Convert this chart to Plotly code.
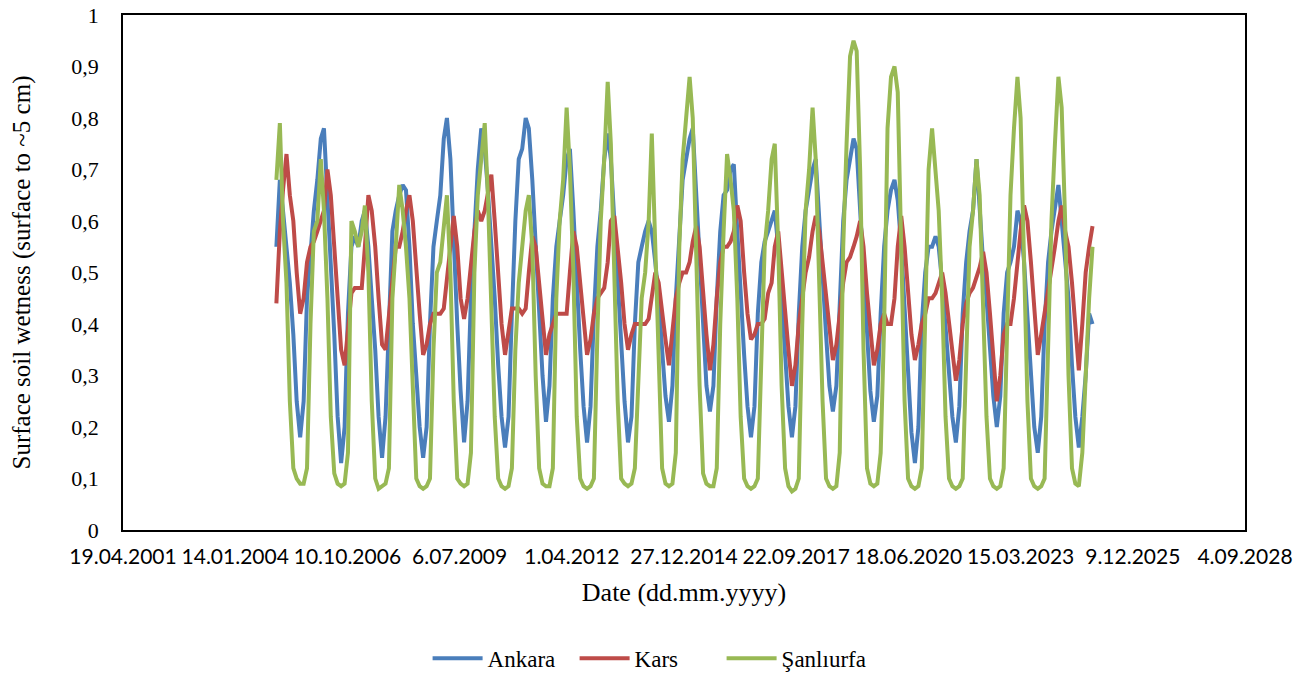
import pandas as pd
import plotly.graph_objects as go

# Monthly (mid-month) readings, Jan 2005 .. Dec 2024
dates = pd.date_range("2005-01-01", "2024-12-01", freq="MS") + pd.Timedelta(days=14)

ankara = [
    0.55, 0.68, 0.62, 0.55, 0.48, 0.38, 0.25, 0.18, 0.25, 0.45, 0.55, 0.62,  # 2005
    0.68, 0.76, 0.78, 0.65, 0.50, 0.38, 0.22, 0.13, 0.20, 0.42, 0.55, 0.57,  # 2006
    0.55, 0.60, 0.62, 0.55, 0.45, 0.35, 0.22, 0.14, 0.22, 0.42, 0.58, 0.62,  # 2007
    0.65, 0.67, 0.66, 0.55, 0.40, 0.30, 0.20, 0.14, 0.20, 0.40, 0.55, 0.60,  # 2008
    0.65, 0.76, 0.80, 0.72, 0.55, 0.40, 0.27, 0.17, 0.25, 0.45, 0.58, 0.70,  # 2009
    0.78, 0.74, 0.66, 0.56, 0.45, 0.32, 0.22, 0.16, 0.22, 0.42, 0.60, 0.72,  # 2010
    0.74, 0.80, 0.78, 0.68, 0.55, 0.42, 0.30, 0.21, 0.28, 0.45, 0.55, 0.60,  # 2011
    0.65, 0.72, 0.74, 0.62, 0.48, 0.35, 0.24, 0.17, 0.24, 0.42, 0.55, 0.62,  # 2012
    0.72, 0.77, 0.72, 0.60, 0.48, 0.35, 0.25, 0.17, 0.22, 0.40, 0.52, 0.55,  # 2013
    0.58, 0.60, 0.58, 0.52, 0.45, 0.35, 0.26, 0.21, 0.28, 0.45, 0.58, 0.68,  # 2014
    0.72, 0.76, 0.78, 0.65, 0.50, 0.38, 0.28, 0.23, 0.28, 0.45, 0.58, 0.65,  # 2015
    0.66, 0.70, 0.71, 0.58, 0.45, 0.34, 0.24, 0.18, 0.24, 0.42, 0.52, 0.56,  # 2016
    0.58, 0.60, 0.62, 0.55, 0.45, 0.35, 0.24, 0.18, 0.24, 0.42, 0.55, 0.62,  # 2017
    0.66, 0.70, 0.72, 0.60, 0.48, 0.38, 0.28, 0.23, 0.28, 0.45, 0.60, 0.68,  # 2018
    0.72, 0.76, 0.74, 0.62, 0.50, 0.38, 0.27, 0.21, 0.26, 0.42, 0.55, 0.62,  # 2019
    0.66, 0.68, 0.64, 0.55, 0.42, 0.30, 0.19, 0.13, 0.20, 0.40, 0.50, 0.55,  # 2020
    0.55, 0.57, 0.55, 0.48, 0.40, 0.32, 0.22, 0.17, 0.24, 0.42, 0.52, 0.58,  # 2021
    0.62, 0.72, 0.62, 0.52, 0.45, 0.35, 0.26, 0.20, 0.26, 0.42, 0.50, 0.52,  # 2022
    0.55, 0.62, 0.60, 0.52, 0.42, 0.30, 0.20, 0.15, 0.22, 0.40, 0.52, 0.58,  # 2023
    0.62, 0.67, 0.60, 0.52, 0.45, 0.32, 0.22, 0.16, 0.22, 0.30, 0.42, 0.40,  # 2024
]

kars = [
    0.44, 0.58, 0.66, 0.73, 0.65, 0.60, 0.50, 0.42, 0.45, 0.52, 0.55, 0.56,  # 2005
    0.58, 0.60, 0.62, 0.70, 0.65, 0.55, 0.45, 0.35, 0.32, 0.40, 0.46, 0.47,  # 2006
    0.47, 0.47, 0.55, 0.65, 0.62, 0.55, 0.45, 0.36, 0.35, 0.42, 0.50, 0.55,  # 2007
    0.55, 0.58, 0.62, 0.65, 0.60, 0.50, 0.42, 0.34, 0.36, 0.40, 0.42, 0.42,  # 2008
    0.42, 0.43, 0.48, 0.55, 0.61, 0.55, 0.45, 0.41, 0.45, 0.52, 0.58, 0.62,  # 2009
    0.60, 0.62, 0.65, 0.69, 0.60, 0.50, 0.40, 0.34, 0.38, 0.43, 0.43, 0.43,  # 2010
    0.42, 0.43, 0.50, 0.57, 0.55, 0.48, 0.40, 0.34, 0.38, 0.40, 0.42, 0.42,  # 2011
    0.42, 0.42, 0.50, 0.58, 0.55, 0.48, 0.40, 0.34, 0.37, 0.42, 0.45, 0.46,  # 2012
    0.47, 0.52, 0.60, 0.61, 0.55, 0.48, 0.40, 0.35, 0.38, 0.40, 0.40, 0.40,  # 2013
    0.40, 0.41, 0.45, 0.50, 0.48, 0.42, 0.37, 0.32, 0.38, 0.45, 0.48, 0.50,  # 2014
    0.50, 0.52, 0.56, 0.59, 0.55, 0.46, 0.38, 0.31, 0.36, 0.45, 0.52, 0.55,  # 2015
    0.55, 0.56, 0.58, 0.63, 0.60, 0.50, 0.42, 0.37, 0.38, 0.40, 0.40, 0.41,  # 2016
    0.46, 0.48, 0.55, 0.58, 0.50, 0.42, 0.35, 0.28, 0.32, 0.40, 0.45, 0.50,  # 2017
    0.53, 0.58, 0.61, 0.58, 0.52, 0.45, 0.38, 0.33, 0.36, 0.42, 0.48, 0.52,  # 2018
    0.53, 0.55, 0.57, 0.60, 0.55, 0.46, 0.38, 0.32, 0.35, 0.40, 0.42, 0.40,  # 2019
    0.40, 0.45, 0.55, 0.61, 0.55, 0.45, 0.38, 0.33, 0.36, 0.40, 0.42, 0.45,  # 2020
    0.45, 0.46, 0.48, 0.50, 0.46, 0.40, 0.34, 0.29, 0.33, 0.40, 0.44, 0.46,  # 2021
    0.47, 0.49, 0.51, 0.54, 0.50, 0.42, 0.33, 0.25, 0.30, 0.38, 0.40, 0.40,  # 2022
    0.45, 0.52, 0.58, 0.63, 0.60, 0.52, 0.42, 0.34, 0.38, 0.42, 0.46, 0.50,  # 2023
    0.55, 0.60, 0.63, 0.58, 0.55, 0.48, 0.40, 0.31, 0.40, 0.50, 0.55, 0.59,  # 2024
]

sanliurfa = [
    0.68, 0.79, 0.60, 0.48, 0.25, 0.12, 0.10, 0.09, 0.09, 0.12, 0.40, 0.58,  # 2005
    0.60, 0.72, 0.62, 0.45, 0.22, 0.11, 0.09, 0.085, 0.09, 0.15, 0.60, 0.58,  # 2006
    0.55, 0.58, 0.63, 0.50, 0.25, 0.10, 0.08, 0.085, 0.09, 0.12, 0.45, 0.55,  # 2007
    0.67, 0.62, 0.55, 0.45, 0.25, 0.10, 0.085, 0.08, 0.085, 0.10, 0.35, 0.50,  # 2008
    0.52, 0.58, 0.65, 0.50, 0.25, 0.10, 0.09, 0.085, 0.09, 0.15, 0.50, 0.65,  # 2009
    0.72, 0.79, 0.65, 0.45, 0.22, 0.10, 0.085, 0.08, 0.085, 0.12, 0.35, 0.48,  # 2010
    0.55, 0.62, 0.65, 0.55, 0.30, 0.12, 0.09, 0.085, 0.085, 0.12, 0.45, 0.60,  # 2011
    0.68, 0.82, 0.70, 0.50, 0.22, 0.10, 0.085, 0.08, 0.085, 0.10, 0.38, 0.60,  # 2012
    0.72, 0.87, 0.75, 0.50, 0.25, 0.10, 0.09, 0.085, 0.09, 0.12, 0.30, 0.45,  # 2013
    0.50, 0.60, 0.77, 0.55, 0.28, 0.12, 0.09, 0.085, 0.09, 0.15, 0.55, 0.72,  # 2014
    0.80, 0.88, 0.80, 0.55, 0.28, 0.11, 0.09, 0.085, 0.085, 0.12, 0.40, 0.58,  # 2015
    0.73, 0.68, 0.62, 0.45, 0.22, 0.10, 0.085, 0.08, 0.085, 0.10, 0.35, 0.55,  # 2016
    0.62, 0.72, 0.75, 0.55, 0.28, 0.12, 0.085, 0.075, 0.08, 0.10, 0.40, 0.62,  # 2017
    0.70, 0.82, 0.72, 0.50, 0.25, 0.10, 0.085, 0.08, 0.085, 0.15, 0.55, 0.75,  # 2018
    0.92, 0.95, 0.93, 0.70, 0.35, 0.12, 0.09, 0.085, 0.09, 0.15, 0.40, 0.78,  # 2019
    0.88, 0.90, 0.85, 0.55, 0.25, 0.10, 0.085, 0.08, 0.085, 0.12, 0.45, 0.70,  # 2020
    0.78, 0.70, 0.62, 0.45, 0.22, 0.10, 0.085, 0.08, 0.085, 0.10, 0.30, 0.55,  # 2021
    0.62, 0.72, 0.65, 0.45, 0.22, 0.10, 0.085, 0.08, 0.085, 0.12, 0.40, 0.65,  # 2022
    0.78, 0.88, 0.80, 0.55, 0.25, 0.10, 0.085, 0.08, 0.085, 0.10, 0.35, 0.60,  # 2023
    0.75, 0.88, 0.82, 0.60, 0.30, 0.12, 0.09, 0.085, 0.15, 0.30, 0.45, 0.55,  # 2024
]

x_tick_dates = ["2001-04-19", "2004-01-14", "2006-10-10", "2009-07-06", "2012-04-01",
                "2014-12-27", "2017-09-22", "2020-06-18", "2023-03-15", "2025-12-09",
                "2028-09-04"]
x_tick_labels = ["19.04.2001", "14.01.2004", "10.10.2006", "6.07.2009", "1.04.2012",
                 "27.12.2014", "22.09.2017", "18.06.2020", "15.03.2023", "9.12.2025",
                 "4.09.2028"]
y_tick_vals = [0, 0.1, 0.2, 0.3, 0.4, 0.5, 0.6, 0.7, 0.8, 0.9, 1]
y_tick_labels = ["0", "0,1", "0,2", "0,3", "0,4", "0,5", "0,6", "0,7", "0,8", "0,9", "1"]

series = [("Ankara", ankara, "#4A7EBB"), ("Kars", kars, "#BE4B48"), ("Şanlıurfa", sanliurfa, "#98B954")]

fig = go.Figure()
for name, vals, col in series:
    fig.add_trace(go.Scatter(x=dates, y=vals, mode="lines", name=name,
                             line=dict(color=col, width=4)))

serif = "Liberation Serif, DejaVu Serif, Times New Roman, serif"
fig.update_layout(
    width=1306, height=673,
    margin=dict(l=123, r=61, t=15, b=143, autoexpand=False),
    paper_bgcolor="white", plot_bgcolor="white",
    font=dict(family=serif, size=20, color="black"),
    showlegend=True,
    legend=dict(orientation="h", x=0.468, xanchor="center", y=-0.249, yanchor="middle",
                font=dict(family=serif, size=23), itemwidth=50, tracegroupgap=0,
                entrywidthmode="pixels", entrywidth=82),
)
fig.update_xaxes(
    type="date", range=["2001-04-19", "2028-09-04"], automargin=False,
    tickmode="array", tickvals=x_tick_dates, ticktext=x_tick_labels, tickangle=0,
    tickfont=dict(family="Lato", size=21, color="black"),
    showgrid=False, zeroline=False,
    showline=True, linecolor="black", linewidth=1.5, mirror=True,
    ticks="", ticklabelstandoff=7,
    title=dict(text="Date (dd.mm.yyyy)", font=dict(family=serif, size=26), standoff=16),
)
fig.update_yaxes(
    range=[0, 1], automargin=False,
    tickmode="array", tickvals=y_tick_vals, ticktext=y_tick_labels,
    tickfont=dict(family=serif, size=22, color="black"),
    showgrid=False, zeroline=False,
    showline=True, linecolor="black", linewidth=1.5, mirror=True,
    ticks="", ticklabelstandoff=18,
    title=dict(text="Surface soil wetness (surface to ~5 cm)", font=dict(family=serif, size=25), standoff=34),
)

fig.write_html("out.html", config={"displayModeBar": False},
               post_script="document.body.style.margin='0px';document.body.style.overflow='hidden';")
